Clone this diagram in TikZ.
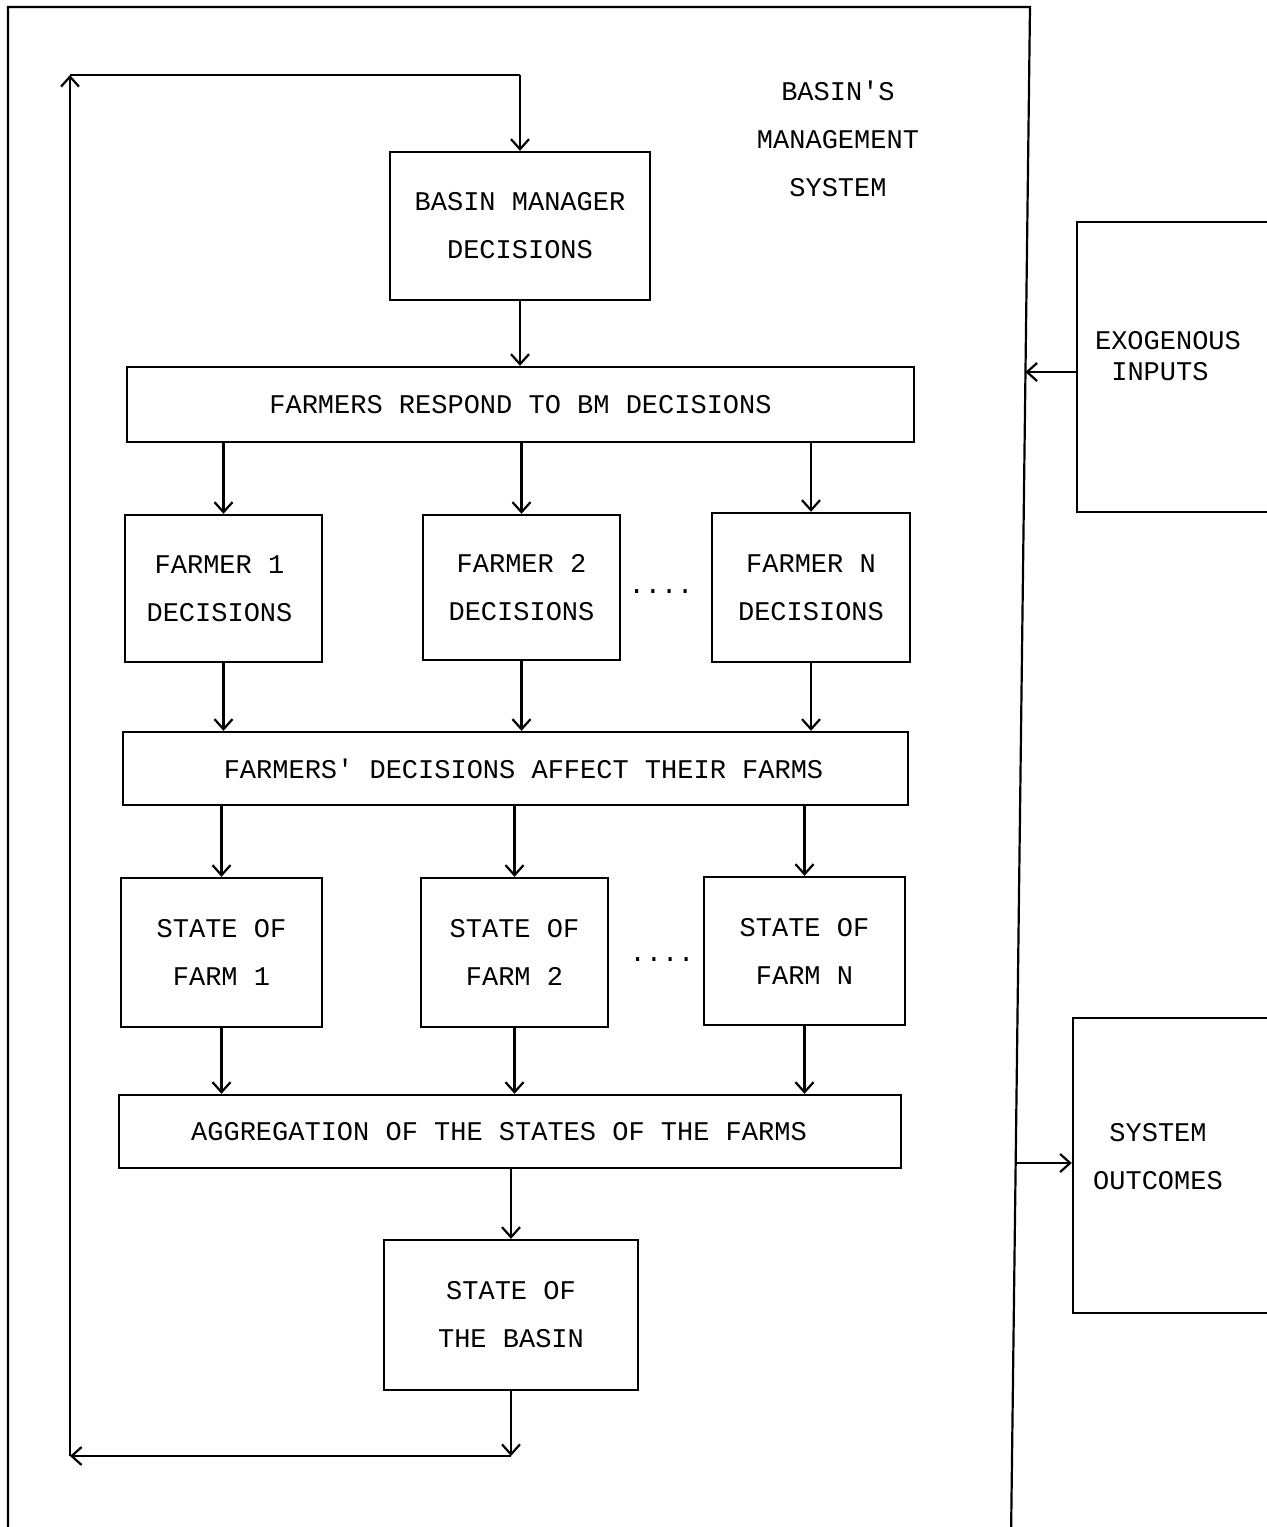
\documentclass[tikz,border=0pt]{standalone}
\usepackage{fontspec}
\setmonofont{Liberation Mono}
\usetikzlibrary{arrows.meta,calc}
\begin{document}
\begin{tikzpicture}[x=1pt,y=-1pt,
  every node/.style={font=\ttfamily\fontsize{27}{48}\selectfont},
  box/.style={draw,line width=2.4pt,inner sep=0pt,align=center},
  lbl/.style={align=center,inner sep=0pt},
  conn/.style={line width=2.2pt},
  arr/.style={line width=2.2pt,-{Straight Barb[length=10pt,width=18pt,line width=2.2pt]}}]
\useasboundingbox (0,0) rectangle (1267,1527);
% outer system boundary
\coordinate (otl) at (8,7);
\coordinate (otr) at (1030,7);
\coordinate (obl) at (8,1540);
\coordinate (obr) at (1011,1540);
\draw[line width=2.2pt] (obl) -- (otl) -- (otr) -- (obr);
\node[lbl] (title) at (838,139) {BASIN'S\\MANAGEMENT\\SYSTEM};
% main chain
\node[box,minimum width=260pt,minimum height=148pt] (bm) at (520,226) {BASIN MANAGER\\DECISIONS};
\node[box,minimum width=787pt,minimum height=75pt] (resp) at (520.5,404.5) {FARMERS RESPOND TO BM DECISIONS};
\node[box,minimum width=197pt,minimum height=147pt] (f1) at (223.5,588.5) {\hspace*{-8pt}FARMER 1\\\hspace*{-8pt}DECISIONS};
\node[box,minimum width=197pt,minimum height=145pt] (f2) at (521.5,587.5) {FARMER 2\\DECISIONS};
\node[box,minimum width=198pt,minimum height=149pt] (fn) at (811,587.5) {FARMER N\\DECISIONS};
\node[lbl] (d1) at (661,592) {....};
\node[box,minimum width=785pt,minimum height=73pt] (aff) at (515.5,768.5) {\hspace*{16pt}FARMERS' DECISIONS AFFECT THEIR FARMS};
\node[box,minimum width=201pt,minimum height=149pt] (s1) at (221.5,952.5) {STATE OF\\FARM 1};
\node[box,minimum width=187pt,minimum height=149pt] (s2) at (514.5,952.5) {STATE OF\\FARM 2};
\node[box,minimum width=201pt,minimum height=148pt] (sn) at (804.5,951) {STATE OF\\FARM N};
\node[lbl] (d2) at (662,960) {....};
\node[box,minimum width=782pt,minimum height=73pt] (agg) at (510,1131.5) {\hspace*{-22pt}AGGREGATION OF THE STATES OF THE FARMS};
\node[box,minimum width=254pt,minimum height=150pt] (bs) at (511,1315) {STATE OF\\THE BASIN};
% external boxes
\node[box,minimum width=223pt,minimum height=290pt] (exo) at (1188.5,367) {};
\node[lbl,align=left,font=\ttfamily\fontsize{27}{31}\selectfont] (exot) at (1168,356) {EXOGENOUS\\\hphantom{X}INPUTS};
\node[box,minimum width=227pt,minimum height=295pt] (out) at (1186.5,1165.5) {};
\node[lbl] (outt) at (1158,1157) {SYSTEM\\OUTCOMES};
% connectors
\draw[arr] (bm.south) -- (bm.south |- resp.north);
\foreach \b in {f1,f2,fn}{
  \draw[arr] (\b.north |- resp.south) -- (\b.north);
  \draw[arr] (\b.south) -- (\b.south |- aff.north);
}
\foreach \b in {s1,s2,sn}{
  \draw[arr] (\b.north |- aff.south) -- (\b.north);
  \draw[arr] (\b.south) -- (\b.south |- agg.north);
}
\draw[arr] (agg.south -| bs.north) -- (bs.north);
% feedback loop
\coordinate (lb) at (70,1456);
\coordinate (lt) at (70,75);
\coordinate (lr) at (511,1456);
\coordinate (tr) at (520,75);
\draw[arr] (bs.south) -- (lr);
\draw[arr] (lr) -- (lb);
\draw[arr] (lb) -- (lt);
\draw[conn] (lt) -- (tr);
\draw[arr] (tr) -- (bm.north);
% exogenous / outcomes
\coordinate (ein) at (1025.4,372);
\coordinate (eout) at (1015.5,1163);
\draw[arr] (exo.west |- ein) -- (ein);
\draw[arr] (eout) -- (eout -| out.west);
\end{tikzpicture}
\end{document}
